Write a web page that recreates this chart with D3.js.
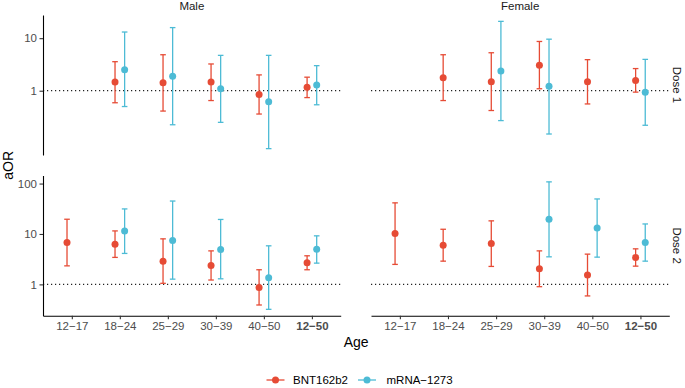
<!DOCTYPE html>
<html>
<head>
<meta charset="utf-8">
<script src="https://cdn.jsdelivr.net/npm/d3@7"></script>
<style>
  html, body { margin: 0; padding: 0; background: #fff; }
  svg { display: block; font-family: "Liberation Sans", Arial, Helvetica, sans-serif; }
</style>
</head>
<body>
<svg id="chart" width="685" height="388"></svg>
<script>
// ---- Data ([estimate, lower, upper], null = not estimated) ----
const ages = ["12−17", "18−24", "25−29", "30−39", "40−50", "12−50"];
const vaccines = ["BNT162b2", "mRNA−1273"];
const sexes = ["Male", "Female"];
const doses = ["Dose 1", "Dose 2"];
const yTickValues = [1, 10, 100];

const maleDose1_BNT = [null, [1.46, 0.59, 3.57], [1.42, 0.41, 4.84], [1.46, 0.65, 3.23], [0.85, 0.36, 2.0], [1.17, 0.74, 1.81]];
const maleDose1_MRNA = [null, [2.52, 0.50, 13.1], [1.89, 0.225, 15.9], [1.09, 0.25, 4.71], [0.62, 0.079, 4.71], [1.28, 0.54, 3.0]];
const femaleDose1_BNT = [null, [1.76, 0.65, 4.84], [1.48, 0.42, 5.28], [3.05, 1.09, 8.66], [1.48, 0.56, 3.9], [1.57, 0.94, 2.64]];
const femaleDose1_MRNA = [null, null, [2.38, 0.27, 20.9], [1.21, 0.15, 9.57], null, [0.94, 0.22, 3.95]];
const maleDose2_BNT = [[6.79, 2.33, 19.6], [6.28, 3.43, 11.5], [2.89, 1.05, 8.0], [2.38, 1.22, 4.62], [0.87, 0.39, 1.95], [2.68, 1.95, 3.69]];
const maleDose2_MRNA = [null, [11.4, 4.11, 31.4], [7.43, 1.27, 45.0], [4.93, 1.29, 19.4], [1.35, 0.32, 5.82], [5.0, 2.64, 9.18]];
const femaleDose2_BNT = [[10.2, 2.49, 41.4], [6.0, 2.89, 12.4], [6.49, 2.27, 18.2], [2.04, 0.9, 4.62], [1.53, 0.59, 3.98], [3.43, 2.3, 5.07]];
const femaleDose2_MRNA = [null, null, null, [19.6, 3.52, 108], [13.2, 3.47, 49.5], [6.79, 2.89, 15.8]];

const seriesTable = {
  "Male|Dose 1": [maleDose1_BNT, maleDose1_MRNA],
  "Female|Dose 1": [femaleDose1_BNT, femaleDose1_MRNA],
  "Male|Dose 2": [maleDose2_BNT, maleDose2_MRNA],
  "Female|Dose 2": [femaleDose2_BNT, femaleDose2_MRNA]
};

// ---- Layout ----
const colors = ["#E64B35", "#4DBBD5"];
const cols = [{x0: 43, x1: 340.7}, {x0: 371, x1: 669.3}];
const rows = [{y0: 15, y1: 155}, {y0: 175.5, y1: 315.7}];
const fontSmall = 11.5;
const textGrey = "#4D4D4D";

const svg = d3.select("#chart");

function rowScale(dose, row) {
  const vals = [];
  sexes.forEach(s => seriesTable[s + "|" + dose].forEach(ser => ser.forEach(d => { if (d) { vals.push(d[1], d[2]); } })));
  const lmin = Math.log10(d3.min(vals)), lmax = Math.log10(d3.max(vals));
  const pad = (lmax - lmin) * 0.05;
  return d3.scaleLog().domain([Math.pow(10, lmin - pad), Math.pow(10, lmax + pad)]).range([row.y1, row.y0]);
}

const dodge = 0.1;

doses.forEach((dose, ri) => {
  const row = rows[ri];
  const y = rowScale(dose, row);
  sexes.forEach((sex, ci) => {
    const col = cols[ci];
    const x = d3.scalePoint().domain(ages).range([col.x0, col.x1]).padding(0.6);
    const step = x.step();
    const g = svg.append("g");

    // reference line at aOR = 1
    g.append("line")
      .attr("x1", col.x0).attr("x2", col.x1)
      .attr("y1", y(1)).attr("y2", y(1))
      .attr("stroke", "#222").attr("stroke-width", 1.2)
      .attr("stroke-dasharray", "1.2,2.8");

    const series = seriesTable[sex + "|" + dose];
    // error bars
    series.forEach((ser, vi) => {
      const off = (vi === 0 ? -dodge : dodge) * step;
      ser.forEach((d, ai) => {
        if (!d) return;
        const cx = x(ages[ai]) + off;
        const eb = g.append("g").attr("stroke", colors[vi]).attr("stroke-width", 1.3).attr("fill", "none");
        eb.append("line").attr("x1", cx).attr("x2", cx).attr("y1", y(d[1])).attr("y2", y(d[2]));
        eb.append("line").attr("x1", cx - 2.8).attr("x2", cx + 2.8).attr("y1", y(d[1])).attr("y2", y(d[1]));
        eb.append("line").attr("x1", cx - 2.8).attr("x2", cx + 2.8).attr("y1", y(d[2])).attr("y2", y(d[2]));
      });
    });
    // points
    series.forEach((ser, vi) => {
      const off = (vi === 0 ? -dodge : dodge) * step;
      ser.forEach((d, ai) => {
        if (!d) return;
        g.append("circle").attr("cx", x(ages[ai]) + off).attr("cy", y(d[0])).attr("r", 3.5).attr("fill", colors[vi]);
      });
    });

    // y axis (left column only)
    if (ci === 0) {
      const dom = y.domain();
      const ya = d3.axisLeft(y).tickValues(yTickValues.filter(v => v >= dom[0] && v <= dom[1]))
        .tickFormat(d3.format("d")).tickSize(3.5).tickSizeOuter(0).tickPadding(2.5);
      const ag = svg.append("g").attr("transform", `translate(${col.x0},0)`).call(ya);
      ag.select(".domain").attr("stroke", "#000").attr("stroke-width", 1.1);
      ag.selectAll(".tick line").attr("stroke", "#333").attr("stroke-width", 1.1);
      ag.selectAll(".tick text").attr("fill", textGrey).attr("font-size", fontSmall).attr("font-family", null);
    }
    // x axis (bottom row only)
    if (ri === rows.length - 1) {
      const xa = d3.axisBottom(x).tickSize(3.5).tickSizeOuter(0).tickPadding(3);
      const ag = svg.append("g").attr("transform", `translate(0,${row.y1})`).call(xa);
      ag.select(".domain").attr("stroke", "#000").attr("stroke-width", 1.1);
      ag.selectAll(".tick line").attr("stroke", "#333").attr("stroke-width", 1.1);
      ag.selectAll(".tick text").attr("fill", textGrey).attr("font-size", fontSmall).attr("font-family", null)
        .attr("font-weight", d => d === "12−50" ? "bold" : "normal");
    }
    // column strip (top)
    if (ri === 0) {
      svg.append("text").attr("x", (col.x0 + col.x1) / 2).attr("y", 9.5)
        .attr("text-anchor", "middle").attr("font-size", fontSmall).attr("fill", "#1A1A1A").text(sex);
    }
  });
  // row strip (right)
  svg.append("text")
    .attr("transform", `translate(677,${(row.y0 + row.y1) / 2}) rotate(90)`)
    .attr("text-anchor", "middle").attr("dominant-baseline", "central")
    .attr("font-size", fontSmall).attr("fill", "#1A1A1A").text(dose);
});

// axis titles
svg.append("text").attr("x", (cols[0].x0 + cols[1].x1) / 2).attr("y", 347)
  .attr("text-anchor", "middle").attr("font-size", 14).attr("fill", "#000").text("Age");
svg.append("text").attr("transform", `translate(13,${(rows[0].y0 + rows[1].y1) / 2}) rotate(-90)`)
  .attr("text-anchor", "middle").attr("font-size", 14).attr("fill", "#000").text("aOR");

// legend
const legendItems = [{cx: 275.5, tx: 293}, {cx: 367, tx: 386.5}];
const ly = 380;
vaccines.forEach((v, i) => {
  const it = legendItems[i];
  svg.append("line").attr("x1", it.cx - 9).attr("x2", it.cx + 9).attr("y1", ly).attr("y2", ly)
    .attr("stroke", colors[i]).attr("stroke-width", 1.3);
  svg.append("circle").attr("cx", it.cx).attr("cy", ly).attr("r", 3.5).attr("fill", colors[i]);
  svg.append("text").attr("x", it.tx).attr("y", ly).attr("dominant-baseline", "central")
    .attr("font-size", fontSmall).attr("fill", "#000").text(v);
});
</script>
</body>
</html>
